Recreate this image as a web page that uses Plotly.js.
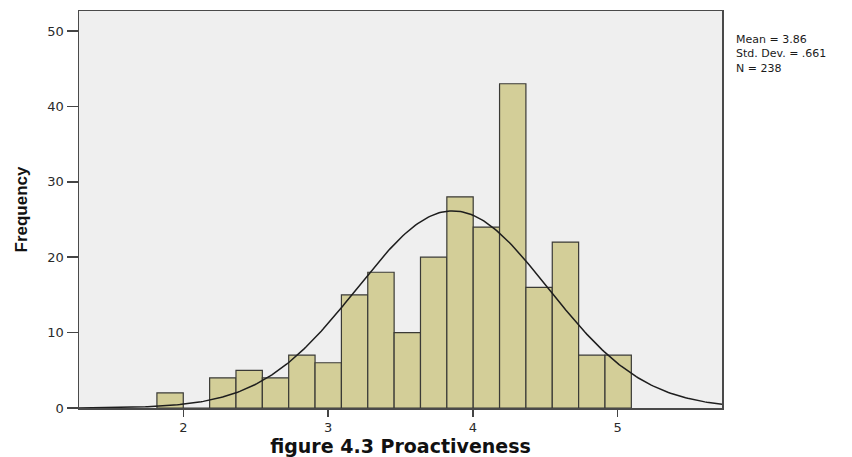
<!DOCTYPE html>
<html>
<head>
<meta charset="utf-8">
<script src="https://cdn.plot.ly/plotly-3.0.1.min.js"></script>
<style>
  html, body { margin: 0; padding: 0; background: #ffffff; }
  #chart { width: 852px; height: 457px; }
</style>
</head>
<body>
<div id="chart"></div>
<script>
// Histogram of Proactiveness scores with fitted normal curve
const binStart = 1.818;
const binWidth = 0.182;
const counts = [2, 0, 4, 5, 4, 7, 6, 15, 18, 10, 20, 28, 24, 43, 16, 22, 7, 7];
const xTicks = [2, 3, 4, 5];
const yTicks = [0, 10, 20, 30, 40, 50];
const statMean = 3.86;
const statSD = 0.661;
const statN = 238;
const statLines = ['Mean = 3.86', 'Std. Dev. = .661', 'N = 238'];

const xRange = [1.28, 5.72];
const yRange = [0, 52.65];

// bin centres
const binCenters = counts.map((_, i) => binStart + binWidth * (i + 0.5));

// normal density scaled to counts per bin
const curveX = [];
const curveY = [];
const steps = 300;
for (let k = 0; k <= steps; k++) {
  const x = xRange[0] + (xRange[1] - xRange[0]) * k / steps;
  const z = (x - statMean) / statSD;
  curveX.push(x);
  curveY.push(statN * binWidth * Math.exp(-0.5 * z * z) / (statSD * Math.sqrt(2 * Math.PI)));
}

const bars = {
  type: 'bar',
  x: binCenters,
  y: counts,
  width: binWidth,
  marker: { color: '#d3ce98', line: { color: '#3a3a36', width: 1.2 } },
  hoverinfo: 'x+y',
  showlegend: false
};

const curve = {
  type: 'scatter',
  mode: 'lines',
  x: curveX,
  y: curveY,
  line: { color: '#1e1e1e', width: 1.5 },
  hoverinfo: 'skip',
  showlegend: false
};

const tickFont = { family: 'DejaVu Sans, Arial, sans-serif', size: 13, color: '#2a2a2a' };

// statistics block to the right of the plot area
const statAnnotation = {
  xref: 'paper', yref: 'paper',
  x: 1.0187, y: 0.95,
  xanchor: 'left', yanchor: 'top', align: 'left',
  text: statLines.join('<br>'), showarrow: false,
  font: { family: 'DejaVu Sans, Arial, sans-serif', size: 11, color: '#1a1a1a' }
};

const layout = {
  width: 852,
  height: 457,
  margin: { l: 79, r: 130, t: 11, b: 49 },
  paper_bgcolor: '#ffffff',
  plot_bgcolor: '#efefef',
  bargap: 0,
  xaxis: {
    range: xRange,
    tickvals: xTicks,
    ticktext: xTicks.map(String),
    ticks: 'outside', ticklen: 7, tickwidth: 1.5, tickcolor: '#444444',
    showgrid: false, zeroline: false,
    showline: true, linecolor: '#4a4a4a', linewidth: 1.5, mirror: true,
    tickfont: tickFont,
    title: {
      text: 'figure 4.3 Proactiveness',
      standoff: 7,
      font: { family: 'DejaVu Sans, Arial, sans-serif', size: 19, weight: 'bold', color: '#111111' }
    }
  },
  yaxis: {
    range: yRange,
    tickvals: yTicks,
    ticktext: yTicks.map(String),
    ticks: 'outside', ticklen: 11, tickwidth: 1.5, tickcolor: '#444444',
    showgrid: false, zeroline: false,
    showline: true, linecolor: '#4a4a4a', linewidth: 1.5, mirror: true,
    tickfont: tickFont,
    title: {
      text: 'Frequency',
      standoff: 15,
      font: { family: 'Liberation Sans Narrow, Arial Narrow, sans-serif', size: 17, weight: 'bold', color: '#111111' }
    }
  },
  annotations: [statAnnotation]
};

Plotly.newPlot('chart', [bars, curve], layout, { displayModeBar: false, staticPlot: true });
</script>
</body>
</html>
